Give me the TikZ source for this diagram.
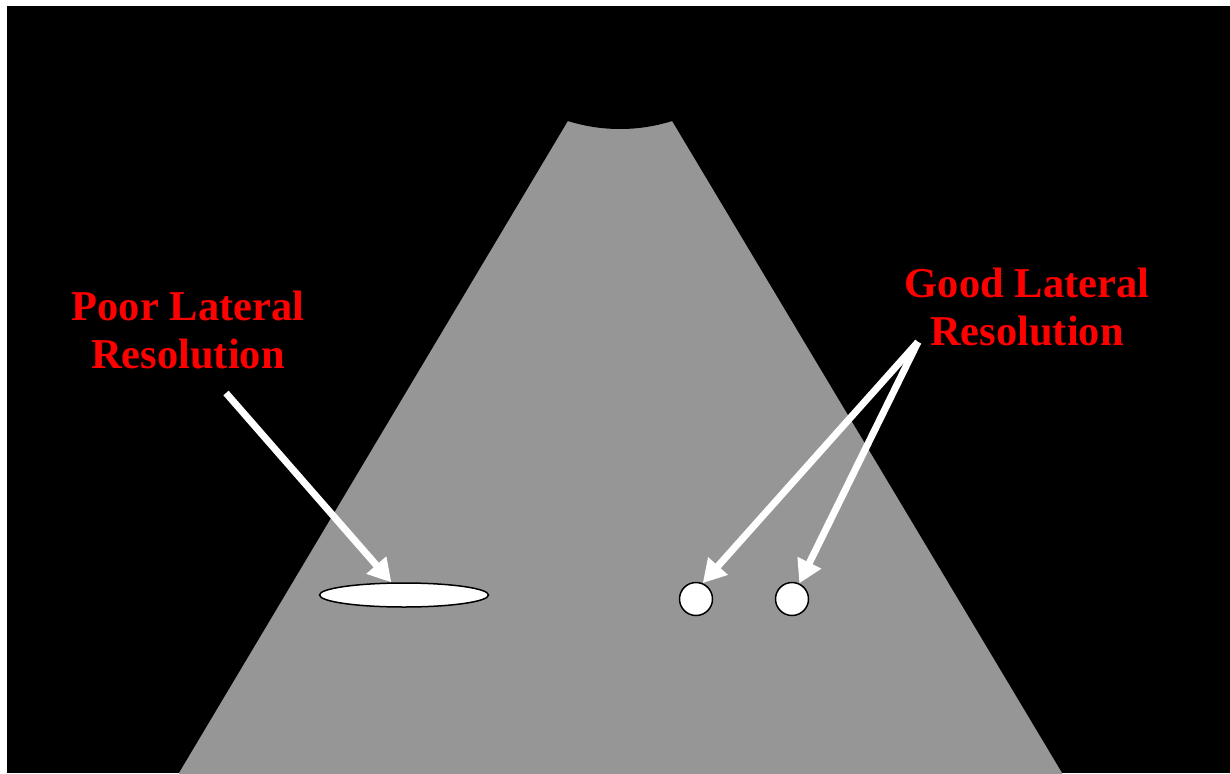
\documentclass[tikz,border=0pt]{standalone}
\usepackage{fontspec}
\setmainfont{Liberation Serif}
\usetikzlibrary{shapes.geometric,arrows.meta}
\definecolor{beamgray}{RGB}{150,150,150}
\definecolor{labelred}{RGB}{255,0,0}
\tikzset{
  label text/.style={text=labelred, font=\fontsize{42.5}{48.5}\selectfont\bfseries, align=center, inner sep=0pt},
  pointer/.style={draw=white, line width=7pt, -{Triangle[length=23pt,width=25pt]}},
  target/.style={draw=black, fill=white, line width=1.5pt, inner sep=0pt}
}
\begin{document}
\begin{tikzpicture}[x=1pt,y=-1pt]
\useasboundingbox (0,0) rectangle (1230,773);
\fill[black] (7,6.5) rectangle (1230,773);
\begin{scope}
\clip (7,6.5) rectangle (1230,773);
\fill[beamgray] (580.5,100) -- (659.4,100) -- (1062,773) -- (1062,780) -- (179,780) -- (179,773) -- cycle;
\fill[black] (620,-44) circle[radius=173];
\end{scope}
\node[target, ellipse, minimum width=169pt, minimum height=24pt] (ell) at (404,595) {};
\node[target, circle, minimum size=33pt] (c1) at (696,599) {};
\node[target, circle, minimum size=33pt] (c2) at (792,599) {};
\node[label text] (poor) at (188,330) {Poor Lateral\\Resolution};
\node[label text] (good) at (1027,307) {Good Lateral\\Resolution};
\coordinate (ps) at (226,393);
\coordinate (gs) at (918,342);
\draw[pointer] (ps) -- (ell.135);
\draw[pointer] (gs) -- (c1.67);
\draw[pointer] (gs) -- (c2.65);
\end{tikzpicture}
\end{document}
